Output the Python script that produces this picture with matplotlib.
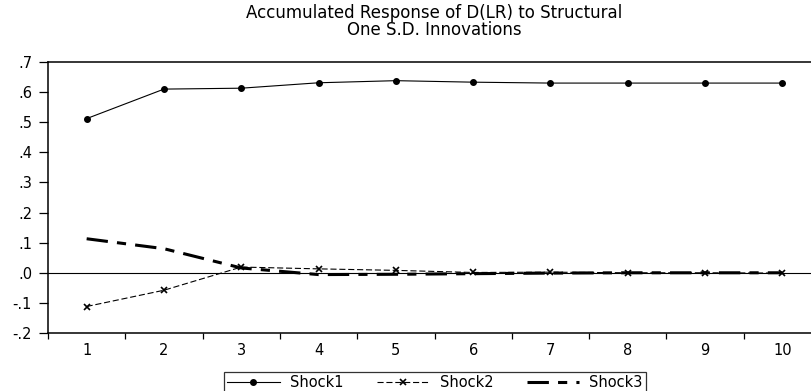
import numpy as np
import matplotlib.pyplot as plt
from matplotlib.ticker import FixedLocator

plt.rcParams['font.family'] = ['DejaVu Sans']

periods = [1, 2, 3, 4, 5, 6, 7, 8, 9, 10]
shock1 = [0.512, 0.610, 0.613, 0.631, 0.638, 0.633, 0.630, 0.630, 0.630, 0.630]
shock2 = [-0.112, -0.058, 0.019, 0.013, 0.008, 0.001, 0.002, 0.000, 0.000, -0.001]
shock3 = [0.113, 0.080, 0.016, -0.006, -0.005, -0.003, -0.001, 0.000, 0.000, 0.000]
ytick_vals = [-0.2, -0.1, 0.0, 0.1, 0.2, 0.3, 0.4, 0.5, 0.6, 0.7]
ytick_labels = ['-.2', '-.1', '.0', '.1', '.2', '.3', '.4', '.5', '.6', '.7']

W, H = 812, 391
fig = plt.figure(figsize=(W / 100, H / 100), dpi=100)
# plot area runs past the right edge, like the cropped original
ax = fig.add_axes([48 / W, 1 - 333 / H, (821 - 48) / W, (333 - 62) / H])

ax.axhline(0, color='black', lw=0.8, zorder=1)
ax.plot(periods, shock1, color='black', lw=0.8, marker='o', ms=4, label='Shock1')
ax.plot(periods, shock2, color='black', lw=0.8, ls=(0, (5.5, 2.5)), marker='x', ms=5,
        mew=1.2, label='Shock2')
ax.plot(periods, shock3, color='black', lw=2.2, ls=(0, (7, 3, 3, 3)), label='Shock3')

ax.set_xlim(0.5, 10.5)
ax.set_ylim(-0.2, 0.7)
ax.set_xticks(periods)
ax.set_xticklabels([str(p) for p in periods])
ax.xaxis.set_minor_locator(FixedLocator(np.arange(0.5, 11, 1)))
ax.tick_params(axis='x', which='major', length=0, pad=7, labelsize=10.5)
ax.tick_params(axis='x', which='minor', length=4.5, width=0.9, direction='out')
ax.set_yticks(ytick_vals)
ax.set_yticklabels(ytick_labels)
ax.tick_params(axis='y', length=6.5, width=0.9, labelsize=10.5, pad=5)
for s in ax.spines.values():
    s.set_linewidth(1.1)

fig.text(434 / W, 1 - 18 / H, 'Accumulated Response of D(LR) to Structural',
         ha='center', va='baseline', fontsize=12)
fig.text(434 / W, 1 - 35 / H, 'One S.D. Innovations',
         ha='center', va='baseline', fontsize=12)

leg = ax.legend(loc='upper center', bbox_to_anchor=(435 / W, 1 - 372 / H),
                bbox_transform=fig.transFigure, ncol=3, frameon=True, fancybox=False,
                fontsize=10.5, handlelength=3.6, handletextpad=0.7, columnspacing=2.3,
                borderpad=0.2, borderaxespad=0)
leg.get_frame().set_edgecolor('black')
leg.get_frame().set_linewidth(0.9)

fig.savefig('out.png', dpi=100)
